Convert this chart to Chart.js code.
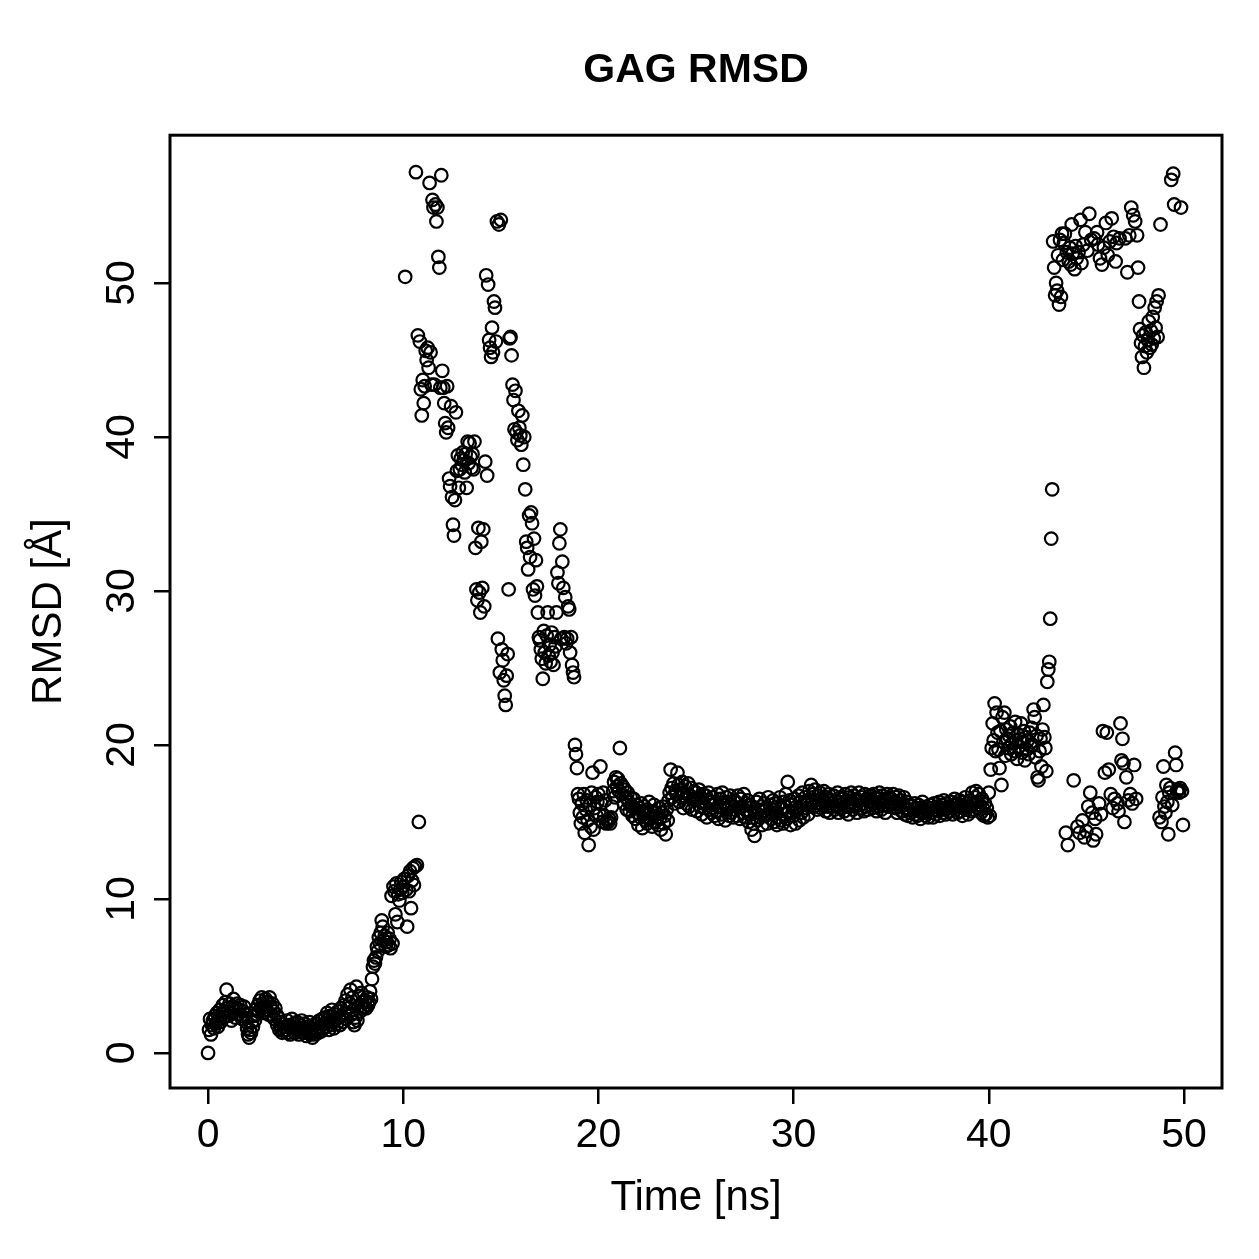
<!DOCTYPE html>
<html>
<head>
<meta charset="utf-8">
<title>GAG RMSD</title>
<script src="https://cdn.jsdelivr.net/npm/chart.js@4.4.1/dist/chart.umd.min.js"></script>
<style>
  html, body { margin: 0; padding: 0; background: #fff; }
  canvas { display: block; }
</style>
</head>
<body>
<canvas id="chart" width="1259" height="1259"></canvas>
<script>
// RMSD, one value every 0.05 ns, one array per 10 ns
const timeStepNs = 0.05;
const segmentStartNs = [0, 10, 20, 30, 40];

const rmsd00to10 = [
  0.0, 1.5, 2.2, 1.2, 1.8, 2.1, 1.6, 2.4, 1.9, 2.6, 1.7, 2.2, 2.8, 2.0, 2.5, 3.1, 2.3, 2.7, 3.3, 4.1,
  2.9, 2.4, 3.2, 2.6, 2.1, 3.0, 3.5, 2.7, 2.3, 2.9, 3.2, 2.5, 2.8, 3.1, 2.4, 2.2, 2.7, 3.0, 2.5, 2.0,
  1.6, 1.2, 1.0, 1.5, 1.3, 2.0, 1.7, 2.4, 2.1, 2.8, 2.5, 3.1, 2.7, 3.4, 2.9, 3.6, 3.2, 2.6, 3.0, 3.5,
  2.8, 3.3, 2.5, 3.6, 3.0, 2.4, 3.2, 2.7, 2.2, 2.9, 2.5, 1.8, 2.3, 1.5, 2.0, 1.6, 1.3, 1.9, 1.4, 1.7,
  1.5, 2.1, 1.3, 1.8, 1.2, 1.6, 2.2, 1.4, 1.9, 1.3, 1.7, 2.0, 1.5, 1.2, 1.8, 1.4, 2.1, 1.6, 1.3, 1.9,
  1.5, 1.1, 1.7, 1.3, 2.0, 1.2, 1.6, 1.0, 1.8, 1.4, 1.2, 1.9, 1.5, 1.3, 2.1, 1.7, 1.4, 2.2, 1.6, 1.9,
  2.3, 1.7, 2.6, 2.0, 1.5, 2.4, 1.8, 2.8, 2.1, 1.6, 2.5, 2.2, 1.9, 2.7, 2.3, 1.8, 2.9, 2.4, 2.0, 3.1,
  2.6, 3.4, 2.2, 3.8, 2.9, 3.2, 4.1, 2.5, 3.6, 2.0, 1.8, 2.3, 4.3, 2.1, 3.0, 3.7, 2.7, 3.9, 3.3, 2.9,
  3.0, 3.4, 2.9, 3.6, 3.1, 3.3, 4.0, 3.5, 4.8, 5.6, 6.0, 5.8, 6.2, 6.9, 6.6, 7.5, 7.1, 7.8, 8.6, 8.2,
  7.3, 7.6, 6.9, 7.2, 7.8, 7.0, 7.4, 6.8, 10.2, 7.1, 10.8, 10.5, 9.0, 11.0, 8.5, 10.3, 9.9, 10.6, 11.1, 10.4
];

const rmsd10to20 = [
  10.8, 11.3, 50.4, 10.6, 8.2, 11.5, 10.5, 11.8, 9.4, 11.2, 12.0, 10.9, 12.1, 57.2, 12.2, 46.6, 15.0, 46.2, 43.1, 41.4,
  43.7, 42.2, 43.3, 45.6, 45.0, 45.8, 44.5, 56.5, 45.5, 43.4, 55.4, 54.9, 43.4, 55.1, 54.0, 54.9, 51.7, 51.0, 43.2, 57.0,
  44.3, 43.2, 42.2, 40.9, 40.3, 43.3, 40.6, 37.3, 36.8, 42.0, 36.1, 34.3, 33.6, 35.9, 41.6, 37.8, 38.8, 36.7, 37.9, 38.6,
  38.2, 39.0, 38.5, 37.7, 38.9, 36.7, 39.7, 38.3, 39.6, 38.7, 38.0, 38.9, 37.9, 39.7, 32.8, 30.1, 29.4, 34.1, 29.9, 28.6,
  33.2, 30.2, 34.0, 29.0, 38.4, 50.5, 37.5, 49.9, 46.3, 45.8, 45.2, 47.1, 45.5, 48.8, 48.4, 46.2, 54.0, 26.9, 53.8, 24.7,
  54.1, 26.2, 25.5, 24.2, 23.2, 22.6, 24.5, 25.9, 30.1, 46.4, 46.5, 45.3, 43.4, 42.4, 40.5, 43.0, 40.3, 39.8, 41.7, 40.6,
  40.1, 39.5, 41.4, 38.2, 40.0, 36.6, 33.2, 32.8, 31.4, 34.9, 32.2, 35.1, 34.4, 30.1, 33.4, 29.7, 32.0, 30.3, 28.6, 27.0,
  26.8, 26.2, 25.6, 24.3, 27.4, 26.0, 25.3, 27.1, 28.6, 25.8, 26.5, 25.4, 27.3, 26.0, 25.2, 27.0, 26.4, 28.6, 31.2, 30.5,
  33.1, 34.0, 26.9, 31.9, 30.2, 27.0, 29.6, 26.6, 26.9, 29.0, 28.8, 26.0, 27.0, 25.2, 24.7, 24.4, 20.0, 19.4, 18.5, 16.8,
  16.5, 15.6, 14.9, 16.2, 15.3, 16.8, 14.3, 15.8, 16.4, 15.1, 13.5, 16.1, 14.7, 16.9, 18.2, 14.5, 15.9, 16.6, 15.4, 16.3
];

const rmsd20to30 = [
  16.8, 15.5, 18.6, 16.2, 15.0, 16.9, 15.4, 16.4, 14.9, 15.1, 15.0, 15.2, 14.9, 15.3, 16.0, 17.0, 17.6, 16.6, 17.9, 17.3,
  17.8, 17.0, 19.8, 17.5, 16.8, 17.3, 16.2, 17.1, 16.6, 15.8, 16.9, 16.3, 15.7, 16.6, 16.0, 15.4, 16.5, 15.9, 15.2, 16.1,
  15.6, 14.8, 15.9, 15.3, 16.2, 14.6, 15.5, 16.0, 15.1, 15.8, 14.9, 15.6, 16.3, 15.2, 15.7, 14.7, 15.4, 16.1, 15.0, 15.6,
  15.3, 14.8, 15.9, 15.2, 14.5, 15.6, 16.0, 14.9, 15.4, 14.2, 15.8, 15.1, 16.4, 16.9, 18.4, 17.2, 16.6, 17.5, 16.2, 17.0,
  16.8, 18.2, 17.4, 16.3, 17.1, 16.6, 17.6, 15.9, 16.9, 17.3, 16.2, 16.8, 17.5, 16.0, 16.7, 17.2, 15.8, 16.5, 17.0, 16.4,
  16.9, 15.7, 16.5, 17.1, 16.0, 16.6, 15.5, 16.8, 16.2, 15.9, 16.7, 15.3, 16.4, 16.9, 15.8, 16.3, 15.6, 16.6, 16.1, 15.4,
  16.2, 15.7, 16.8, 15.2, 16.0, 16.5, 15.5, 16.9, 15.9, 16.3, 15.1, 16.6, 15.8, 16.2, 15.4, 16.7, 15.6, 16.1, 15.3, 16.4,
  15.8, 16.3, 15.4, 16.7, 15.9, 15.2, 16.5, 16.0, 15.6, 16.8, 15.3, 16.2, 15.7, 16.4, 15.0, 16.1, 15.5, 14.5, 16.0, 14.9,
  14.1, 15.6, 16.3, 15.1, 15.8, 16.5, 15.3, 16.0, 14.8, 15.7, 16.2, 15.4, 15.9, 14.9, 16.6, 15.5, 16.1, 15.2, 15.8, 16.4,
  15.0, 16.2, 15.6, 14.8, 16.0, 15.3, 16.6, 15.1, 15.9, 14.9, 16.3, 15.5, 16.8, 15.2, 17.6, 15.7, 16.4, 14.8, 16.1, 15.6
];

const rmsd30to40 = [
  15.4, 16.5, 14.9, 16.0, 15.8, 16.7, 15.1, 16.3, 15.6, 16.9, 15.3, 16.2, 16.6, 15.9, 16.4, 15.5, 17.0, 16.1, 17.4, 16.3,
  16.8, 16.0, 17.1, 16.4, 15.8, 16.7, 16.2, 16.9, 15.9, 16.5, 16.1, 17.0, 16.3, 15.7, 16.6, 16.0, 16.8, 15.6, 16.4, 16.2,
  16.0, 16.7, 15.8, 16.4, 16.1, 16.9, 15.6, 16.3, 16.6, 15.9, 16.5, 16.2, 15.7, 16.8, 16.0, 16.4, 15.5, 16.6, 16.1, 16.9,
  16.3, 15.8, 16.7, 16.0, 16.5, 15.6, 16.4, 16.9, 16.1, 15.9, 16.6, 16.2, 15.7, 16.8, 16.0, 16.5, 15.8, 16.3, 16.7, 16.1,
  16.4, 15.9, 16.8, 16.2, 16.6, 15.7, 16.5, 16.0, 16.9, 16.3, 15.8, 16.7, 16.1, 16.5, 15.6, 16.4, 16.8, 16.0, 16.6, 16.2,
  16.5, 16.0, 16.8, 16.3, 15.9, 16.6, 15.6, 16.2, 16.7, 16.0, 16.4, 15.7, 16.1, 16.6, 15.5, 15.9, 16.3, 15.4, 15.8, 16.1,
  15.6, 16.0, 15.3, 15.8, 16.2, 15.5, 15.9, 15.4, 16.1, 15.7, 15.2, 15.9, 16.3, 15.6, 15.8, 15.4, 16.0, 15.7, 15.3, 15.9,
  16.1, 15.6, 15.9, 15.3, 16.2, 15.8, 15.5, 16.0, 15.7, 16.3, 15.4, 15.9, 16.1, 15.6, 16.4, 15.8, 15.5, 16.2, 15.9, 16.0,
  15.7, 16.3, 15.9, 15.5, 16.1, 16.5, 15.8, 16.2, 15.6, 16.0, 16.4, 15.7, 16.1, 15.4, 16.3, 15.9, 16.6, 15.8, 16.2, 15.5,
  16.0, 16.4, 15.7, 16.9, 16.2, 15.8, 16.6, 17.0, 16.3, 15.9, 16.8, 16.1, 15.6, 16.5, 15.9, 15.4, 16.2, 15.5, 15.9, 15.3
];

const rmsd40to50 = [
  16.9, 15.4, 18.4, 19.8, 21.4, 20.3, 22.7, 19.6, 22.1, 20.8, 19.7, 18.5, 20.9, 17.4, 21.8, 20.2, 22.1, 19.3, 21.0, 20.4,
  19.8, 20.6, 21.2, 19.4, 20.1, 20.8, 19.6, 21.5, 20.3, 19.1, 20.7, 19.9, 20.4, 21.4, 19.5, 20.2, 20.9, 19.0, 20.5, 19.7,
  20.3, 19.4, 20.8, 19.9, 21.1, 20.0, 22.3, 21.8, 19.2, 20.6, 17.9, 17.7, 19.6, 20.4, 18.6, 21.0, 22.6, 20.5, 19.8, 18.3,
  24.1, 24.9, 25.4, 28.2, 33.4, 36.6, 52.7, 51.0, 49.2, 50.0, 49.5, 51.8, 48.6, 52.8, 49.1, 53.2, 51.5, 52.6, 53.2, 14.3,
  52.0, 13.5, 51.4, 52.3, 51.2, 53.8, 51.9, 17.7, 50.9, 52.4, 51.6, 14.7, 52.0, 14.3, 54.1, 51.3, 15.1, 52.5, 14.0, 53.3,
  14.4, 52.1, 16.0, 54.5, 16.9, 52.8, 15.6, 13.8, 52.9, 15.2, 14.2, 53.3, 52.5, 16.2, 51.6, 15.5, 51.2, 20.9, 52.3, 18.2,
  53.9, 20.8, 51.8, 18.4, 52.7, 16.8, 54.2, 15.9, 53.0, 16.5, 51.4, 52.6, 16.2, 15.7, 52.9, 21.4, 19.0, 20.4, 18.8, 15.0,
  52.9, 17.9, 50.7, 16.4, 53.1, 16.8, 54.9, 16.2, 54.4, 18.7, 54.0, 16.5, 53.1, 51.0, 48.8, 47.0, 46.1, 45.2, 46.6, 44.5,
  45.9, 46.8, 45.5, 46.3, 47.5, 45.8, 46.9, 46.0, 47.8, 46.4, 48.4, 47.1, 48.8, 46.5, 49.2, 15.3, 53.8, 15.0, 16.6, 18.6,
  16.0, 15.6, 17.4, 16.3, 14.2, 16.9, 17.2, 56.7, 16.1, 57.1, 55.1, 19.5, 18.7, 17.0, 17.1, 16.9, 17.2, 54.9, 17.0, 14.8
];

const xTickValues = [0, 10, 20, 30, 40, 50];
const yTickValues = [0, 10, 20, 30, 40, 50];

const segments = [rmsd00to10, rmsd10to20, rmsd20to30, rmsd30to40, rmsd40to50];
const points = [];
segments.forEach((seg, s) => {
  seg.forEach((v, i) => {
    points.push({ x: segmentStartNs[s] + i * timeStepNs, y: v });
  });
});

const fontFamily = '"Liberation Sans", Arial, Helvetica, sans-serif';

// box round the plot and the rotated y tick labels, as R draws them
const frameAndYLabels = {
  id: 'frameAndYLabels',
  afterDraw(chart) {
    const { ctx, chartArea: a } = chart;
    const y = chart.scales.y;
    ctx.save();
    ctx.strokeStyle = '#000';
    ctx.lineWidth = 3;
    ctx.strokeRect(a.left, a.top, a.right - a.left, a.bottom - a.top);
    ctx.fillStyle = '#000';
    ctx.font = '41px ' + fontFamily;
    ctx.textAlign = 'center';
    ctx.textBaseline = 'alphabetic';
    yTickValues.forEach(v => {
      ctx.save();
      ctx.translate(134, y.getPixelForValue(v));
      ctx.rotate(-Math.PI / 2);
      ctx.fillText(String(v), 0, 0);
      ctx.restore();
    });
    ctx.restore();
  }
};

const ctx = document.getElementById('chart').getContext('2d');
new Chart(ctx, {
  type: 'scatter',
  data: {
    datasets: [{
      data: points,
      showLine: false,
      pointStyle: 'circle',
      pointRadius: 6.3,
      pointBorderWidth: 2.2,
      borderColor: '#000',
      backgroundColor: 'rgba(0,0,0,0)',
      pointBackgroundColor: 'rgba(0,0,0,0)'
    }]
  },
  options: {
    responsive: false,
    animation: false,
    devicePixelRatio: 1,
    layout: { padding: { left: 0, right: 37, top: 0, bottom: 0 } },
    plugins: {
      legend: { display: false },
      tooltip: { enabled: false },
      title: {
        display: true,
        text: 'GAG RMSD',
        fullSize: false,
        color: '#000',
        font: { family: fontFamily, size: 41, weight: 'bold' },
        padding: { top: 46, bottom: 40 }
      }
    },
    scales: {
      x: {
        type: 'linear',
        min: -1.95,
        max: 51.95,
        afterBuildTicks: scale => { scale.ticks = xTickValues.map(v => ({ value: v })); },
        afterFit: scale => { scale.height = 171; },
        grid: { drawOnChartArea: false, drawTicks: true, tickLength: 16, color: '#000', lineWidth: 2.5 },
        border: { display: false },
        ticks: { color: '#000', padding: 7, maxRotation: 0, font: { family: fontFamily, size: 41 } },
        title: {
          display: true,
          text: 'Time [ns]',
          color: '#000',
          font: { family: fontFamily, size: 42 },
          padding: { top: 0, bottom: 35 }
        }
      },
      y: {
        type: 'linear',
        min: -2.28,
        max: 59.6,
        afterBuildTicks: scale => { scale.ticks = yTickValues.map(v => ({ value: v })); },
        afterFit: scale => { scale.width = 170; },
        grid: { drawOnChartArea: false, drawTicks: true, tickLength: 16, color: '#000', lineWidth: 2.5 },
        border: { display: false },
        ticks: { display: false },
        title: {
          display: true,
          text: 'RMSD [Å]',
          color: '#000',
          font: { family: fontFamily, size: 42 },
          padding: { top: 24, bottom: 0 }
        }
      }
    }
  },
  plugins: [frameAndYLabels]
});
</script>
</body>
</html>
